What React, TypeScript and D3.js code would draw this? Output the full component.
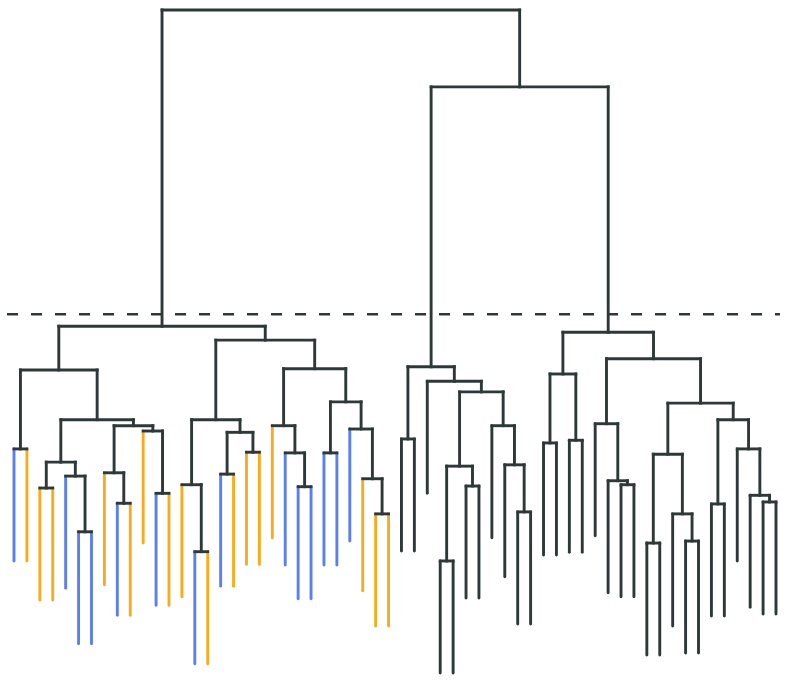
import React, { useMemo } from 'react';
import * as d3 from 'd3';

const W = 800;
const H = 684;

// leaf colour keys
const COLORS: Record<string, string> = { b: '#5a7ff0', o: '#f8ac1c', g: '#2f3838' };
const LINK = '#2f3838';

// merge nodes are [height, left, right]; leaves are colour keys
type Node = string | [number, Node, Node];

const LEFT_GROUP: Node = [5.23,
  [4.57,
    [3.38, 'b', 'o'],
    [3.82,
      [3.18, [2.79, 'o', 'o'], [2.97, 'b', [2.13, 'b', 'b']]],
      [3.73, [3.02, 'o', [2.56, 'b', 'o']], [3.65, 'o', [2.71, 'b', 'o']]]]],
  [5.02,
    [3.82,
      [2.84, 'o', [1.83, 'b', 'o']],
      [3.63, [3.0, 'b', 'o'], [3.33, 'o', 'o']]],
    [4.59,
      [3.73, 'o', [3.32, 'b', [2.81, 'b', 'b']]],
      [4.09, [3.32, 'b', 'b'], [3.68, 'b', [2.93, 'o', [2.4, 'o', 'o']]]]]]];

const MIDDLE_GROUP: Node = [4.62,
  [3.53, 'g', 'g'],
  [4.4, 'g',
    [4.24,
      [3.12, [1.69, 'g', 'g'], [2.82, 'g', 'g']],
      [3.73, 'g', [3.14, 'g', [2.43, 'g', 'g']]]]]];

const RIGHT_GROUP: Node = [5.14,
  [4.51, [3.47, 'g', 'g'], [3.51, 'g', 'g']],
  [4.74,
    [3.76, 'g', [2.9, 'g', [2.84, 'g', 'g']]],
    [4.07,
      [3.3, [1.96, 'g', 'g'], [2.4, 'g', [1.99, 'g', 'g']]],
      [3.82, [2.55, 'g', 'g'], [3.38, 'g', [2.68, 'g', [2.58, 'g', 'g']]]]]]];

const TOP_HEIGHTS = { right: 8.84, root: 10 };
const THRESHOLD = 5.41;
const LEAF_HANG = 1.69;

const TREE: Node = [TOP_HEIGHTS.root, LEFT_GROUP, [TOP_HEIGHTS.right, MIDDLE_GROUP, RIGHT_GROUP]];

export default function App() {
  const { links, threshold } = useMemo(() => {
    const root = d3.hierarchy<Node>(TREE, d => (Array.isArray(d) ? [d[1], d[2]] : null));
    d3.cluster<Node>().size([1, 1]).separation(() => 1)(root);

    // first and last leaf sit on the plot edges
    const leafX = d3.extent(root.leaves(), l => l.x!) as [number, number];
    const x = d3.scaleLinear().domain(leafX).range([14, 776]);
    const y = d3.scaleLinear().domain([0, 10]).range([673, 10]);

    const height = (n: d3.HierarchyNode<Node>) =>
      Array.isArray(n.data) ? n.data[0] : (n.parent!.data as [number, Node, Node])[0] - LEAF_HANG;

    const verticals: { x: number; y1: number; y2: number; color: string; leaf: boolean }[] = [];
    const horizontals: { x1: number; x2: number; y: number }[] = [];
    root.each(n => {
      if (!n.children) return;
      const yn = y(height(n));
      n.children.forEach(c => {
        const leaf = !c.children;
        verticals.push({
          x: x(c.x!), y1: yn, y2: y(height(c)),
          color: leaf ? COLORS[c.data as string] : LINK, leaf,
        });
      });
      horizontals.push({ x1: x(n.children[0].x!), x2: x(n.children[1].x!), y: yn });
    });
    return { links: { verticals, horizontals }, threshold: y(THRESHOLD) };
  }, []);

  return (
    <div style={{ position: 'fixed', left: 0, top: 0, width: W, height: H, background: '#fff' }}>
      <svg width={W} height={H} style={{ display: 'block' }}>
        <line x1={7} x2={780} y1={threshold} y2={threshold}
          stroke={LINK} strokeWidth={2.6} strokeDasharray="11 13" />
        <g fill="none">
          {links.verticals.map((v, i) => (
            <line key={'v' + i} x1={v.x} x2={v.x} y1={v.y1} y2={v.y2}
              stroke={v.color} strokeWidth={2.9} strokeLinecap={v.leaf ? 'round' : 'square'} />
          ))}
          {links.horizontals.map((h, i) => (
            <line key={'h' + i} x1={h.x1} x2={h.x2} y1={h.y} y2={h.y}
              stroke={LINK} strokeWidth={2.9} strokeLinecap="square" />
          ))}
        </g>
      </svg>
    </div>
  );
}
